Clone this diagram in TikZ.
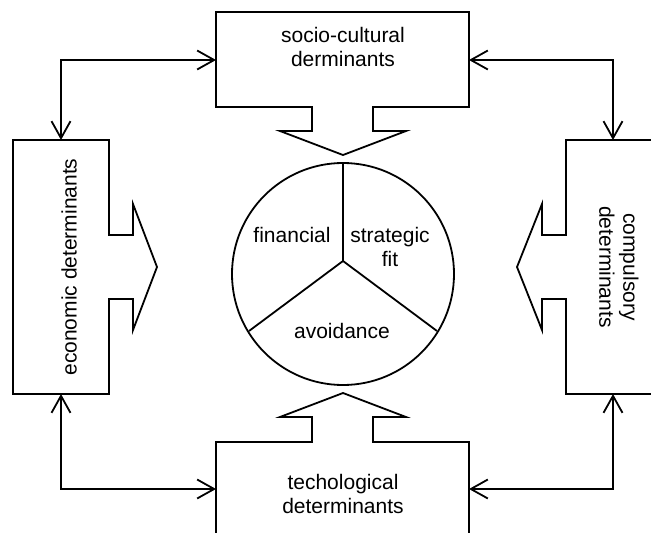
\documentclass[tikz,border=0pt]{standalone}
\usepackage{fontspec}
\setmainfont{Liberation Sans}
\usetikzlibrary{arrows.meta}
\begin{document}
\begin{tikzpicture}[x=1pt,y=-1pt,
  outline/.style={line width=1.8pt, line join=miter},
  barb/.tip={Straight Barb[length=17pt,width=19pt]},
  link/.style={line width=1.8pt, barb-barb},
  label/.style={font=\fontsize{21}{24}\selectfont, align=center, inner sep=0pt}]
\useasboundingbox (0,0) rectangle (651,533);
\clip (0,0) rectangle (651,533);

% socio-cultural block with its arrow pointing down to the wheel
\draw[outline] (312,107) -- (216,107) -- (216,12) -- (469,12) -- (469,107)
  -- (373,107) -- (373,131) -- (406,131) -- (343,155) -- (280,131)
  -- (312,131) -- cycle;
% technological block with its arrow pointing up to the wheel
\draw[outline] (216,545) -- (216,442) -- (312,442) -- (312,417) -- (280,417)
  -- (343,393) -- (406,417) -- (373,417) -- (373,442) -- (469,442) -- (469,545);
% economic block with its arrow pointing right
\draw[outline] (109,235) -- (133,235) -- (133,204) -- (157,267) -- (133,330)
  -- (133,299) -- (109,299) -- (109,394) -- (13,394) -- (13,140) -- (109,140)
  -- cycle;
% compulsory block with its arrow pointing left
\draw[outline] (665,140) -- (566,140) -- (566,235) -- (542,235) -- (542,204)
  -- (517,267) -- (542,330) -- (542,299) -- (566,299) -- (566,394) -- (665,394);

% the wheel of three motives
\draw[outline] (343,274) circle[radius=111pt];
\coordinate (hub) at (343,261);
\coordinate (spokeN) at (343,163);
\coordinate (spokeSW) at (249,331);
\coordinate (spokeSE) at (437,331);
\draw[outline] (spokeN) -- (hub) -- (spokeSW);
\draw[outline] (hub) -- (spokeSE);

% labels
\node[label] (socio) at (343,46.5) {socio-cultural\\derminants};
\node[label] (tech) at (343,493.5) {techological\\determinants};
\node[label, rotate=90] (econ) at (69,267) {economic determinants};
\node[label, rotate=-90] (comp) at (619,267) {compulsory\\determinants};
\node[label, anchor=base] (fin) at (292,242) {financial};
\node[label] (strat) at (390,246.5) {strategic\\fit};
\node[label, anchor=base] (avoid) at (342,338) {avoidance};

% attachment points of the connectors
\coordinate (econTop) at (61,140);
\coordinate (econBot) at (61,394);
\coordinate (socioL) at (216,60);
\coordinate (socioR) at (469,60);
\coordinate (techL) at (216,489);
\coordinate (techR) at (469,489);
\coordinate (compTop) at (613,140);
\coordinate (compBot) at (613,394);

\draw[link] (econTop) |- (socioL);
\draw[link] (socioR) -| (compTop);
\draw[link] (econBot) |- (techL);
\draw[link] (techR) -| (compBot);
\end{tikzpicture}
\end{document}
